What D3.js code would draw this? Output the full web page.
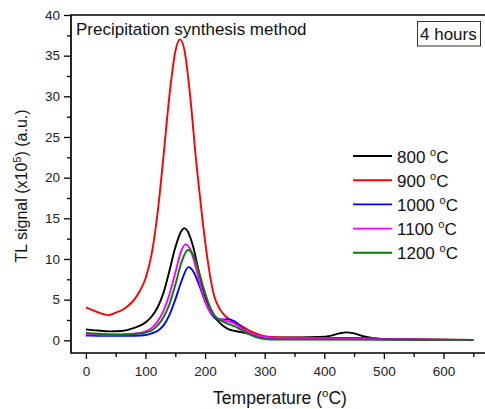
<!DOCTYPE html>
<html>
<head>
<meta charset="utf-8">
<script src="https://cdn.jsdelivr.net/npm/d3@7"></script>
<style>
    body { margin: 0; background: #fff; }
    svg { font-family: "Liberation Sans", Arial, sans-serif; }
</style>
</head>
<body>
<svg id="chart" width="485" height="409"></svg>
<script>
// Annealing temperatures shown in the legend
const seriesNames = ["800", "900", "1000", "1100", "1200"];
const seriesColors = ["#000000", "#ff0000", "#0000ff", "#ff00ff", "#008000"];

// Glow curves: [temperature, TL signal x10^5]
const tl800 = [[0,1.35],[20,1.2],[40,1.1],[60,1.15],[80,1.5],[100,2.2],[110,2.9],[120,4.0],[130,5.8],[140,8.5],[150,11.4],[160,13.4],[165,13.8],[170,13.5],[180,11.5],[190,8.3],[200,5.4],[210,3.6],[220,2.5],[230,1.8],[240,1.35],[250,1.15],[260,1.0],[280,0.7],[300,0.4],[320,0.35],[360,0.35],[390,0.4],[410,0.55],[425,0.85],[437,0.98],[450,0.85],[465,0.5],[480,0.3],[500,0.15],[550,0.1],[600,0.08],[650,0.05]];
const tl900 = [[0,4.05],[10,3.75],[20,3.45],[30,3.2],[38,3.1],[50,3.4],[60,3.7],[70,4.2],[80,4.9],[90,6.0],[100,7.6],[110,10.5],[120,15.5],[130,22.5],[140,30],[150,35.5],[158,37],[165,35.8],[175,30],[185,22],[195,15.2],[205,9.5],[215,5.5],[225,3.8],[235,2.9],[250,2.2],[265,1.6],[280,1.0],[300,0.5],[320,0.35],[400,0.3],[480,0.25],[500,0.15],[550,0.1],[650,0.05]];
const tl1000 = [[0,0.6],[20,0.57],[40,0.55],[60,0.55],[80,0.57],[100,0.65],[110,0.85],[120,1.15],[130,1.8],[140,3.1],[150,5.0],[160,7.2],[172,9.0],[180,8.5],[190,6.8],[200,4.8],[210,3.3],[220,2.6],[230,2.55],[240,2.6],[250,2.3],[260,1.7],[270,1.1],[285,0.6],[300,0.35],[320,0.3],[400,0.3],[450,0.25],[500,0.12],[650,0.05]];
const tl1100 = [[0,0.8],[20,0.72],[40,0.68],[60,0.7],[80,0.8],[100,1.1],[110,1.5],[120,2.3],[130,3.6],[140,5.6],[150,8.3],[160,11.0],[167,11.8],[175,11.2],[185,8.8],[195,6.0],[205,4.0],[215,3.0],[225,2.6],[235,2.4],[245,2.2],[255,1.8],[265,1.3],[280,0.8],[300,0.4],[320,0.3],[400,0.25],[450,0.2],[500,0.12],[650,0.05]];
const tl1200 = [[0,0.9],[20,0.8],[40,0.72],[60,0.72],[80,0.78],[100,0.95],[110,1.2],[120,1.8],[130,2.8],[140,4.4],[150,6.8],[160,9.5],[171,11.1],[180,10.5],[190,8.3],[200,5.8],[210,3.8],[220,2.7],[230,2.3],[240,2.0],[250,1.7],[260,1.3],[270,0.9],[285,0.4],[300,0.15],[320,0.08],[650,0.05]];
const seriesValues = [tl800, tl900, tl1000, tl1100, tl1200];

const xTicks = [0, 100, 200, 300, 400, 500, 600];
const yTicks = [0, 5, 10, 15, 20, 25, 30, 35, 40];

const svg = d3.select("#chart");
const plotLeft = 71, plotRight = 485, plotTop = 15, plotBottom = 353;

const x = d3.scaleLinear().domain([-25, 670]).range([plotLeft, plotRight + 0.2]);
const y = d3.scaleLinear().domain([-1.56, 40]).range([plotBottom, plotTop]);

// minor ticks
const xMinor = d3.range(50, 700, 100);
const yMinor = d3.range(2.5, 40, 5);

svg.append("g")
    .attr("transform", "translate(0," + plotBottom + ")")
    .call(d3.axisBottom(x).tickValues(xMinor).tickSize(4).tickFormat(""))
    .call(g => g.select(".domain").remove())
    .selectAll("line").attr("stroke-width", 1.3);

svg.append("g")
    .attr("transform", "translate(" + plotLeft + ",0)")
    .call(d3.axisLeft(y).tickValues(yMinor).tickSize(4).tickFormat(""))
    .call(g => g.select(".domain").remove())
    .selectAll("line").attr("stroke-width", 1.3);

const xAxis = svg.append("g")
    .attr("transform", "translate(0," + plotBottom + ")")
    .call(d3.axisBottom(x).tickValues(xTicks).tickSize(6).tickPadding(7));
xAxis.select(".domain").remove();
xAxis.selectAll("line").attr("stroke-width", 1.3);
xAxis.selectAll("text").attr("font-size", 13.5).attr("fill", "#222");

const yAxis = svg.append("g")
    .attr("transform", "translate(" + plotLeft + ",0)")
    .call(d3.axisLeft(y).tickValues(yTicks).tickSize(7).tickPadding(4));
yAxis.select(".domain").remove();
yAxis.selectAll("line").attr("stroke-width", 1.3);
yAxis.selectAll("text").attr("font-size", 13.5).attr("fill", "#222");

// frame: left, top and bottom (right side is cut off)
svg.append("path")
    .attr("d", "M" + plotRight + "," + plotTop + "H" + plotLeft + "V" + plotBottom + "H" + plotRight)
    .attr("fill", "none")
    .attr("stroke", "#000")
    .attr("stroke-width", 1.7);

const line = d3.line()
    .x(d => x(d[0]))
    .y(d => y(d[1]))
    .curve(d3.curveMonotoneX);

svg.append("g")
    .selectAll("path")
    .data(seriesValues)
    .join("path")
    .attr("d", line)
    .attr("fill", "none")
    .attr("stroke", (d, i) => seriesColors[i])
    .attr("stroke-width", 1.9);

// legend
const legend = svg.append("g").attr("font-size", 17);
seriesNames.forEach((name, i) => {
    const ly = 156 + i * 24.2;
    legend.append("line")
        .attr("x1", 353).attr("x2", 392)
        .attr("y1", ly).attr("y2", ly)
        .attr("stroke", seriesColors[i])
        .attr("stroke-width", 1.9);
    const t = legend.append("text")
        .attr("x", 397).attr("y", ly + 6.5)
        .attr("fill", "#111");
    t.append("tspan").text(name + " ");
    t.append("tspan").attr("font-size", 11).attr("dy", -7).text("o");
    t.append("tspan").attr("dy", 7).text("C");
});

// title and box label
svg.append("text")
    .attr("x", 76).attr("y", 34.5)
    .attr("font-size", 17)
    .attr("fill", "#111")
    .text("Precipitation synthesis method");

svg.append("rect")
    .attr("x", 417.5).attr("y", 21.5)
    .attr("width", 63).attr("height", 24.5)
    .attr("fill", "#fff")
    .attr("stroke", "#333")
    .attr("stroke-width", 1);

svg.append("text")
    .attr("x", 420).attr("y", 39.5)
    .attr("font-size", 17)
    .attr("fill", "#111")
    .text("4 hours");

// axis titles
const xLabel = svg.append("text")
    .attr("x", 280).attr("y", 404)
    .attr("text-anchor", "middle")
    .attr("font-size", 17.5)
    .attr("fill", "#111");
xLabel.append("tspan").text("Temperature (");
xLabel.append("tspan").attr("font-size", 11.5).attr("dy", -7).text("o");
xLabel.append("tspan").attr("dy", 7).text("C)");

const yLabel = svg.append("text")
    .attr("transform", "translate(27,186) rotate(-90)")
    .attr("text-anchor", "middle")
    .attr("font-size", 16)
    .attr("fill", "#111");
yLabel.append("tspan").text("TL signal (x10");
yLabel.append("tspan").attr("font-size", 11).attr("dy", -6).text("5");
yLabel.append("tspan").attr("dy", 6).text(") (a.u.)");
</script>
</body>
</html>
